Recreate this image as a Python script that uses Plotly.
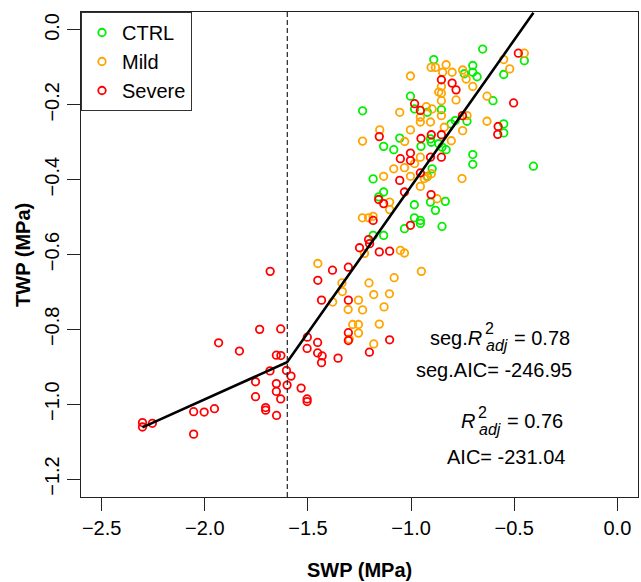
import plotly.graph_objects as go

# ---------------- data ----------------
groups = ["CTRL", "Mild", "Severe"]
colors = {"CTRL": "#00F000", "Mild": "#FFA500", "Severe": "#FF0000"}

ctrl_swp = [-0.890, -1.003, -0.983, -1.235, -0.921, -1.055, -1.133, -1.084, -0.952, -0.906,
            -0.853, -0.653, -0.451, -0.551, -0.701, -0.701, -0.680, -0.742, -0.729, -0.786,
            -0.806, -0.603, -0.551, -0.551, -0.866, -0.850, -0.830, -0.902, -0.701, -0.701,
            -0.407, -0.898, -1.184, -0.921, -1.133, -1.157, -0.906, -0.984, -0.882, -0.834,
            -0.984, -0.955, -0.955, -1.032, -0.850, -1.184, -1.133]
ctrl_twp = [-0.079, -0.177, -0.211, -0.216, -0.220, -0.289, -0.311, -0.320, -0.311, -0.291,
            -0.213, -0.051, -0.082, -0.119, -0.095, -0.113, -0.125, -0.117, -0.244, -0.242,
            -0.251, -0.189, -0.251, -0.275, -0.304, -0.313, -0.320, -0.300, -0.333, -0.359,
            -0.364, -0.371, -0.398, -0.391, -0.433, -0.446, -0.460, -0.467, -0.482, -0.458,
            -0.502, -0.509, -0.517, -0.531, -0.525, -0.549, -0.549]

mild_swp = [-1.452, -1.335, -1.333, -1.380, -1.305, -1.255, -1.283, -1.255, -1.255, -1.226,
            -1.052, -1.032, -1.204, -1.082, -0.950, -1.181, -1.105, -1.235, -1.131, -1.154,
            -1.181, -1.300, -1.084, -1.032, -0.955, -1.133, -1.003, -0.936, -0.955, -1.104,
            -1.104, -0.874, -1.236, -1.206, -1.184, -0.903, -0.882, -1.003, -0.866, -0.926,
            -0.898, -1.055, -0.955, -0.955, -0.906, -1.152, -1.235, -1.003, -1.031, -0.830,
            -0.847, -0.801, -0.750, -0.733, -0.853, -0.853, -0.701, -0.853, -0.782, -0.632,
            -0.551, -0.522, -0.451, -0.853, -0.729, -0.632, -0.839, -0.750, -0.805, -0.983,
            -0.922, -0.902, -0.753]
mild_twp = [-0.624, -0.676, -0.699, -0.727, -0.747, -0.722, -0.787, -0.787, -0.810, -0.597,
            -0.589, -0.596, -0.676, -0.662, -0.645, -0.707, -0.705, -0.748, -0.740, -0.786,
            -0.839, -0.826, -0.371, -0.368, -0.340, -0.391, -0.391, -0.397, -0.418, -0.460,
            -0.480, -0.451, -0.502, -0.502, -0.498, -0.100, -0.100, -0.123, -0.166, -0.205,
            -0.211, -0.220, -0.233, -0.246, -0.246, -0.267, -0.297, -0.267, -0.298, -0.093,
            -0.113, -0.113, -0.107, -0.131, -0.151, -0.169, -0.151, -0.189, -0.187, -0.177,
            -0.079, -0.104, -0.062, -0.229, -0.229, -0.244, -0.260, -0.269, -0.296, -0.357,
            -0.393, -0.384, -0.397]

severe_swp = [-1.683, -1.381, -1.304, -1.250, -1.452, -1.434, -1.304, -1.304, -1.304, -1.734,
              -1.632, -1.933, -1.832, -1.653, -1.631, -1.503, -1.453, -1.504, -1.453, -1.431,
              -1.434, -1.354, -1.684, -1.604, -1.582, -1.754, -1.653, -1.601, -1.533, -1.653,
              -1.754, -1.632, -1.504, -1.504, -1.705, -1.705, -1.652, -2.054, -2.003, -1.953,
              -2.302, -2.302, -2.254, -2.054, -1.154, -1.104, -1.104, -1.202, -1.052, -1.003,
              -1.003, -0.906, -0.853, -1.055, -0.955, -1.032, -1.157, -1.133, -0.903, -1.184,
              -1.003, -1.206, -1.201, -1.154, -0.983, -0.955, -0.952, -0.902, -0.853, -0.853,
              -0.801, -0.782, -0.751, -0.578, -0.580, -0.503, -0.480]
severe_twp = [-0.645, -0.642, -0.634, -0.582, -0.669, -0.722, -0.722, -0.809, -0.830, -0.800,
              -0.799, -0.836, -0.858, -0.869, -0.870, -0.821, -0.835, -0.851, -0.863, -0.871,
              -0.889, -0.877, -0.911, -0.910, -0.925, -0.940, -0.945, -0.949, -0.957, -0.966,
              -0.980, -0.986, -0.986, -0.993, -1.009, -1.016, -1.030, -1.020, -1.021, -1.012,
              -1.049, -1.061, -1.051, -1.080, -0.593, -0.591, -0.828, -0.861, -0.344, -0.329,
              -0.349, -0.340, -0.340, -0.402, -0.382, -0.433, -0.453, -0.464, -0.440, -0.509,
              -0.522, -0.560, -0.571, -0.285, -0.197, -0.215, -0.290, -0.280, -0.280, -0.133,
              -0.142, -0.160, -0.229, -0.258, -0.279, -0.195, -0.062]

# segmented fit (start, breakpoint, end)
fit_swp = [-2.302, -1.601, -0.407]
fit_twp = [-1.062, -0.888, 0.046]
breakpoint_swp = -1.60

x_ticks = [-2.5, -2.0, -1.5, -1.0, -0.5, 0.0]
y_ticks = [-1.2, -1.0, -0.8, -0.6, -0.4, -0.2, 0.0]

seg_r2 = "0.78"
seg_aic = "-246.95"
lin_r2 = "0.76"
lin_aic = "-231.04"

FONT = "Liberation Sans, Arial, sans-serif"

# ---------------- figure ----------------
fig = go.Figure()
series = {"CTRL": (ctrl_swp, ctrl_twp), "Mild": (mild_swp, mild_twp),
          "Severe": (severe_swp, severe_twp)}
for g in groups:
    xs, ys = series[g]
    fig.add_trace(go.Scatter(
        x=xs, y=ys, mode="markers", name=g,
        marker=dict(symbol="circle-open", size=7.5, color=colors[g],
                    line=dict(width=1.8, color=colors[g])),
    ))

fig.add_trace(go.Scatter(x=fit_swp, y=fit_twp, mode="lines", showlegend=False,
                         line=dict(color="black", width=2.6)))

fig.add_shape(type="line", xref="x", yref="y domain", x0=breakpoint_swp, x1=breakpoint_swp,
              y0=0, y1=1, line=dict(color="#222", width=1.2, dash="5px,3px"))

ann = []
def txt(x, y, text, size=20, xanchor="center"):
    ann.append(dict(x=x, y=y, xref="x", yref="y", text=text, showarrow=False,
                    xanchor=xanchor, yanchor="middle",
                    font=dict(family=FONT, size=size, color="black")))

# seg. R^2_adj
txt(-0.645, -0.823, "seg.<i>R</i>", xanchor="right")
txt(-0.650, -0.799, "2", size=16, xanchor="left")
txt(-0.647, -0.843, "<i>adj</i>", size=16, xanchor="left")
txt(-0.510, -0.823, "= " + seg_r2, xanchor="left")
txt(-0.596, -0.909, "seg.AIC= " + seg_aic)
# R^2_adj
txt(-0.679, -1.045, "<i>R</i>", xanchor="right")
txt(-0.684, -1.021, "2", size=16, xanchor="left")
txt(-0.681, -1.067, "<i>adj</i>", size=16, xanchor="left")
txt(-0.546, -1.045, "= " + lin_r2, xanchor="left")
txt(-0.540, -1.141, "AIC= " + lin_aic)

# axis titles
ann.append(dict(x=0.5, y=-0.1497, xref="paper", yref="paper", text="<b>SWP (MPa)</b>",
                showarrow=False, xanchor="center", yanchor="middle",
                font=dict(family=FONT, size=20, color="black")))
ann.append(dict(x=-0.1052, y=0.5, xref="paper", yref="paper", text="<b>TWP (MPa)</b>",
                showarrow=False, xanchor="center", yanchor="middle", textangle=-90,
                font=dict(family=FONT, size=20, color="black")))

fig.update_layout(
    width=641, height=582,
    margin=dict(l=81, r=3, t=12, b=85, pad=0),
    paper_bgcolor="white", plot_bgcolor="white",
    font=dict(family=FONT, size=20, color="black"),
    annotations=ann,
    legend=dict(x=0, y=1, xanchor="left", yanchor="top", bgcolor="white",
                bordercolor="#333", borderwidth=1, font=dict(family=FONT, size=20),
                itemwidth=30, tracegroupgap=0),
    showlegend=True,
)
axis_common = dict(showgrid=False, zeroline=False, showline=True, linecolor="#222",
                   linewidth=1, mirror=True, ticks="outside", ticklen=13, tickwidth=1,
                   tickcolor="#222", tickfont=dict(family=FONT, size=20, color="black"),
                   tickformat=".1f")
fig.update_xaxes(range=[-2.6, 0.1], tickvals=x_ticks, **axis_common)
fig.update_yaxes(range=[-1.248, 0.048], tickvals=y_ticks, tickangle=-90, **axis_common)

fig.write_html("out.html", config={"displayModeBar": False},
               post_script="document.body.style.margin='0px';document.body.style.overflow='hidden';")
